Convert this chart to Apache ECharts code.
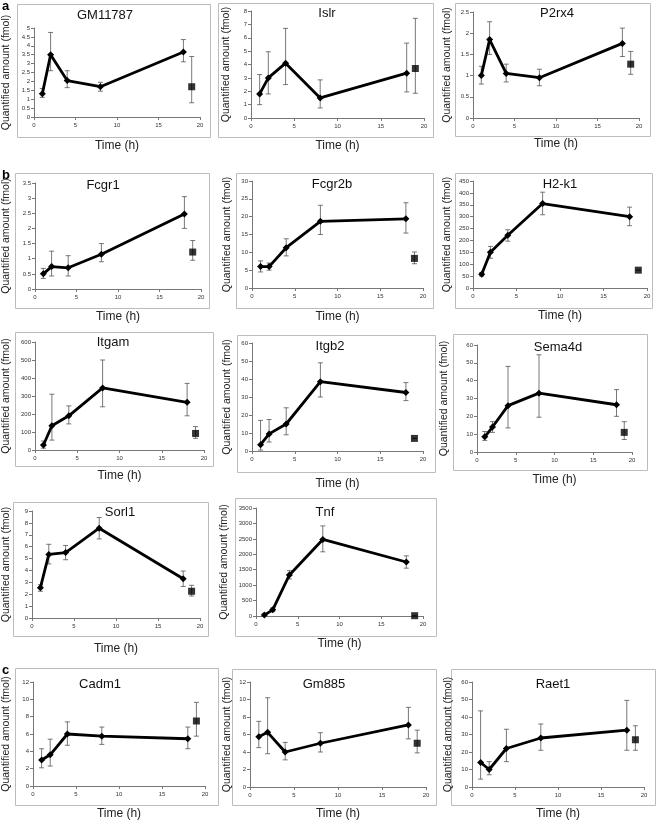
<!DOCTYPE html>
<html><head><meta charset="utf-8">
<script src="https://cdn.jsdelivr.net/npm/echarts@6/dist/echarts.min.js"></script>
<style>html,body{margin:0;padding:0;background:#fff}#c{width:656px;height:825px}</style>
</head><body><div id="c"></div>
<script>
const genes = ['GM11787','Islr','P2rx4','Fcgr1','Fcgr2b','H2-k1','Itgam','Itgb2','Sema4d','Sorl1','Tnf','Cadm1','Gm885','Raet1'];
const timePoints = [1,2,4,8,18];
const controlTime = 19;
const xMax = 20, xStep = 5;
const yMax  = [5,8,2.5,3.5,30,450,600,60,60,9,3500,12,12,60];
const yStep = [0.5,1,0.5,0.5,5,50,100,10,10,1,500,2,2,10];
const means = [
 [1.3,3.5,2.05,1.7,3.65],
 [1.8,3.0,4.1,1.5,3.35],
 [1.0,1.85,1.05,0.95,1.76],
 [0.5,0.74,0.7,1.15,2.48],
 [6.0,6.0,11.3,18.7,19.4],
 [58,150,222,355,300],
 [28,135,190,345,265],
 [3.5,9.5,15,38.5,32.5],
 [8.5,14,26,33,26.5],
 [2.55,5.35,5.5,7.55,3.3],
 [30,200,1330,2480,1750],
 [3.0,3.6,6.0,5.75,5.45],
 [5.75,6.25,4.0,5.0,7.1],
 [14,10,22,28,32.5]
];
const lows = [
 [1.1,2.6,1.65,1.45,3.1],
 [1.0,1.8,2.5,0.75,1.95],
 [0.8,1.5,0.85,0.76,1.45],
 [0.35,0.43,0.43,0.9,2.0],
 [4.5,5.0,9.0,15,15.4],
 [50,125,197,308,262],
 [10,55,145,240,190],
 [0.5,5,9,30,28],
 [6.5,11,13.5,19.5,20],
 [2.25,4.55,4.9,6.65,2.65],
 [0,140,1200,2080,1550],
 [2.1,2.3,4.7,4.8,4.3],
 [4.5,3.8,3.1,4.0,5.5],
 [4.5,7,14.5,21,21]
];
const highs = [
 [1.6,4.75,2.6,1.95,4.35],
 [3.25,4.95,6.7,2.85,5.6],
 [1.22,2.27,1.27,1.15,2.12],
 [0.68,1.25,1.1,1.5,3.05],
 [7.6,7.0,13.8,23.2,23.9],
 [65,175,245,403,340],
 [50,310,245,500,370],
 [17,17.5,24,49,38],
 [11.5,17,48,54.5,35],
 [2.8,6.2,6.1,8.45,3.95],
 [80,260,1470,2920,1950],
 [4.3,5.4,7.4,6.8,6.8],
 [7.5,10.2,5.1,6.2,9.1],
 [43.5,14.5,33,36,49.5]
];
const ctrlMean = [1.7,3.7,1.27,1.22,8.3,75,92,7,11,2.25,10,7.5,5.0,27];
const ctrlLow  = [0.8,1.85,1.03,0.95,6.8,75,65,7,7,1.85,10,5.75,3.9,21];
const ctrlHigh = [3.4,7.45,1.57,1.6,10.1,75,130,7,17,2.75,10,9.65,6.5,35];
const yAxisTitle = 'Quantified amount (fmol)';
const xAxisTitle = 'Time (h)';
const panelLetters = [['a',0],['b',3],['c',11]];

// layout: [gridL, gridT, gridR, gridB, boxL, boxT, boxR, boxB, titleX, titleY, yLabelX, timeY]
const layout = [
 [33,28,200,117, 17,4,210,137, 105,15, 6,147],
 [251,11,424,118, 218,3,433,137, 327,13, 227,147],
 [473,12,639,118, 455,3,650,136, 557,13, 448,145],
 [33,183,201,289, 15,173,209,308, 103,185, 5,318],
 [252,181,423,288, 236,173,433,308, 332,184, 228,318],
 [473,181,647,288, 455,173,652,308, 560,184, 448,317],
 [33,342,204,450, 15,332,213,466, 113,342, 5,477],
 [252,343,423,451, 237,335,435,472, 330,346, 228,485],
 [477,345,632,452, 453,334,647,470, 558,347, 445,481],
 [29,511,200,618, 13,502,208,636, 120,512, 4,650],
 [256,508,423,616, 235,498,436,636, 325,512, 225,645],
 [32,682,205,786, 15,668,218,805, 100,684, 6,815],
 [250,682,426,787, 232,669,436,805, 324,684, 228,815],
 [472,682,644,787, 451,669,655,805, 553,684, 449,815]
];

const FONT = "'Liberation Sans', Arial, sans-serif";
const chart = echarts.init(document.getElementById('c'), null, {renderer:'canvas'});

function errRender(params, api){
  const x = api.value(0), lo = api.value(1), hi = api.value(2);
  const p1 = api.coord([x, lo]), p2 = api.coord([x, hi]);
  const w = 2.5;
  const style = {stroke:'#555', lineWidth:0.8};
  return {type:'group', children:[
    {type:'line', shape:{x1:p1[0],y1:p1[1],x2:p2[0],y2:p2[1]}, style},
    {type:'line', shape:{x1:p1[0]-w,y1:p1[1],x2:p1[0]+w,y2:p1[1]}, style},
    {type:'line', shape:{x1:p2[0]-w,y1:p2[1],x2:p2[0]+w,y2:p2[1]}, style}
  ]};
}
const plainNum = v => String(v);

const grids=[], xAxes=[], yAxes=[], series=[], graphics=[];
genes.forEach((g,i)=>{
  const L = layout[i];
  grids.push({left:L[0], top:L[1], width:L[2]-L[0], height:L[3]-L[1]});
  xAxes.push({gridIndex:i, type:'value', min:0, max:xMax, interval:xStep,
    name:xAxisTitle, nameLocation:'middle', nameGap:L[11]-L[3]-7,
    nameTextStyle:{fontFamily:FONT, fontSize:12, color:'#222'},
    splitLine:{show:false},
    axisLine:{lineStyle:{color:'#777', width:1}},
    axisTick:{show:true, length:3, lineStyle:{color:'#777'}},
    axisLabel:{fontFamily:FONT, fontSize:6, color:'#333', margin:5, formatter:plainNum}
  });
  yAxes.push({gridIndex:i, type:'value', min:0, max:yMax[i], interval:yStep[i],
    name:yAxisTitle, nameLocation:'middle', nameRotate:90, nameGap:L[0]-L[10]-5,
    nameTextStyle:{fontFamily:FONT, fontSize:10.5, color:'#222'},
    splitLine:{show:false},
    axisLine:{show:true, lineStyle:{color:'#777', width:1}},
    axisTick:{show:true, length:3, lineStyle:{color:'#777'}},
    axisLabel:{fontFamily:FONT, fontSize:6, color:'#333', margin:4, formatter:plainNum}
  });
  const errData = timePoints.map((t,k)=>[t, lows[i][k], highs[i][k]]);
  errData.push([controlTime, ctrlLow[i], ctrlHigh[i]]);
  series.push({type:'custom', xAxisIndex:i, yAxisIndex:i, renderItem:errRender,
    encode:{x:0, y:[1,2]}, data:errData, z:1, silent:true});
  series.push({type:'line', xAxisIndex:i, yAxisIndex:i, z:3,
    data:timePoints.map((t,k)=>[t, means[i][k]]),
    symbol:'diamond', symbolSize:7, showSymbol:true,
    lineStyle:{color:'#000', width:2.8}, itemStyle:{color:'#000'}});
  series.push({type:'scatter', xAxisIndex:i, yAxisIndex:i, z:3,
    data:[[controlTime, ctrlMean[i]]], symbol:'rect', symbolSize:7,
    itemStyle:{color:'#000'}});
  graphics.push({type:'rect', z:-1, silent:true,
    shape:{x:L[4]+0.5, y:L[5]+0.5, width:L[6]-L[4], height:L[7]-L[5]},
    style:{fill:'none', stroke:'#bcbcbc', lineWidth:1}});
  graphics.push({type:'text', x:L[8], y:L[9], silent:true,
    style:{text:g, fontFamily:FONT, fontSize:13, fill:'#111', align:'center', verticalAlign:'middle'}});
});
panelLetters.forEach(([t,idx])=>{
  const L = layout[idx];
  graphics.push({type:'text', x:2, y:L[5]-4, silent:true,
    style:{text:t, fontFamily:FONT, fontSize:13, fontWeight:'bold', fill:'#000', align:'left', verticalAlign:'top'}});
});

chart.setOption({
  animation:false,
  backgroundColor:'#fff',
  grid:grids, xAxis:xAxes, yAxis:yAxes, series:series, graphic:graphics
});
</script></body></html>
